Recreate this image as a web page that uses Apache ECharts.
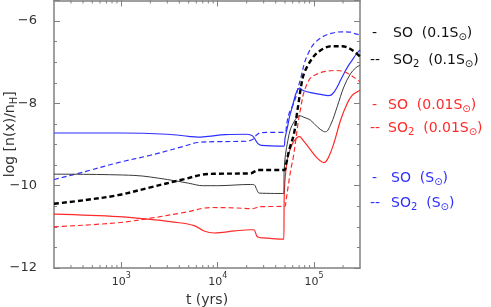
<!DOCTYPE html>
<html><head><meta charset="utf-8">
<script src="https://cdn.jsdelivr.net/npm/echarts@6/dist/echarts.min.js"></script>
<style>html,body{margin:0;padding:0;background:#fff}#c{width:491px;height:307px}</style>
</head><body><div id="c"></div>
<script>
// ---- data: [t (yrs), log n(x)/nH] ----
const soSun = [[200,-8.72],[1000,-8.72],[3000,-8.75],[5000,-8.80],[6200,-8.82],[8000,-8.80],[12000,-8.76],[20000,-8.75],[23000,-8.79],[26000,-8.97],[28500,-9.02],[48500,-9.04],[50000,-8.85],[53300,-8.55],[56000,-8.3],[60100,-8.05],[64000,-7.8],[67700,-7.67],[71000,-7.63],[76000,-7.68],[92000,-7.74],[117000,-7.78],[140000,-7.81],[150000,-7.80],[162000,-7.72],[174000,-7.6],[190000,-7.42],[204000,-7.28],[225000,-7.1],[249000,-6.95],[275000,-6.8],[300000,-6.7]];
const so2Sun = [[200,-9.85],[417,-9.66],[925,-9.44],[2000,-9.26],[4500,-9.04],[6200,-8.95],[10000,-8.93],[20000,-8.92],[23000,-8.88],[25500,-8.76],[28500,-8.71],[50000,-8.70],[52000,-8.5],[55000,-8.25],[60000,-8.05],[64600,-7.85],[68500,-7.6],[72600,-7.4],[80000,-7.0],[88500,-6.75],[100000,-6.55],[121000,-6.39],[150000,-6.30],[196000,-6.26],[240000,-6.27],[268000,-6.31],[300000,-6.33]];
const so01 = [[200,-9.72],[1350,-9.75],[3000,-9.85],[5000,-9.94],[7000,-10.0],[10000,-10.0],[22000,-9.97],[24000,-9.98],[25500,-10.1],[27000,-10.18],[48500,-10.19],[49000,-9.6],[50500,-9.25],[53500,-8.9],[57000,-8.62],[62000,-8.45],[66000,-8.35],[71000,-8.30],[77000,-8.33],[92000,-8.41],[108000,-8.57],[125000,-8.68],[132000,-8.69],[150000,-8.5],[174000,-8.08],[204000,-7.6],[239000,-7.28],[270000,-7.14],[300000,-7.07]];
const so2_01 = [[200,-10.44],[417,-10.35],[925,-10.23],[2000,-10.04],[4500,-9.84],[7000,-9.73],[10000,-9.71],[22000,-9.70],[24000,-9.66],[26000,-9.62],[49000,-9.62],[51000,-9.5],[55000,-9.15],[62000,-8.73],[66000,-8.3],[69800,-7.92],[72600,-7.65],[78000,-7.3],[88500,-7.03],[100000,-6.85],[112000,-6.74],[130000,-6.65],[150000,-6.61],[196000,-6.61],[230000,-6.66],[268000,-6.76],[300000,-6.86]];
const so001 = [[200,-10.69],[925,-10.75],[2000,-10.82],[4000,-10.9],[5700,-10.97],[7200,-11.1],[9200,-11.15],[15000,-11.1],[22000,-11.07],[23800,-11.07],[25800,-11.24],[30000,-11.27],[48500,-11.3],[49000,-10.3],[50000,-9.85],[53500,-9.3],[60000,-8.97],[66000,-8.84],[71000,-8.81],[76000,-8.88],[90000,-9.1],[108000,-9.33],[126500,-9.44],[140000,-9.33],[160700,-8.97],[188500,-8.41],[220800,-8.0],[250000,-7.8],[280500,-7.72],[300000,-7.68]];
const so2_001 = [[200,-11.0],[925,-10.9],[2000,-10.79],[4500,-10.65],[8500,-10.53],[15000,-10.54],[23000,-10.56],[25500,-10.53],[28000,-10.51],[50000,-10.5],[51000,-10.4],[54000,-10.0],[57500,-9.6],[61000,-9.3],[65000,-8.85],[69000,-8.4],[73500,-8.05],[78000,-7.75],[85000,-7.52],[92000,-7.38],[105000,-7.3],[121000,-7.24],[167000,-7.20],[200000,-7.22],[228000,-7.28],[265000,-7.38],[300000,-7.48]];

// ---- axes / ticks (time in years; plotted on log10 scale) ----
const X_MIN = 200, X_MAX = 300000, Y_MIN = -12, Y_MAX = -5.5;
const xMajorTicks = [1000, 10000, 100000];
const xMinorTicks = [300,400,500,600,700,800,900,2000,3000,4000,5000,6000,7000,8000,9000,20000,30000,40000,50000,60000,70000,80000,90000,200000];
const yLabels = [-12, -10, -8, -6];

const AX = '#808080';
const TXT = '#333333';
const FONT = 'DejaVu Sans';
const lg = function (t) { return Math.log10(t); };

const chart = echarts.init(document.getElementById('c'), null, {renderer: 'canvas'});

function lineSeries(data, color, width, dashed) {
  return {
    type: 'line', data: data.map(function (p) { return [lg(p[0]), p[1]]; }),
    xAxisIndex: 0, yAxisIndex: 0,
    showSymbol: false, symbol: 'none', smooth: 0.35,
    lineStyle: {color: color, width: width, type: dashed ? [5, 3] : 'solid'},
    silent: true, z: 3
  };
}

const xBase = {
  type: 'value', min: lg(X_MIN), max: lg(X_MAX),
  axisLine: {show: true, onZero: false, lineStyle: {color: AX, width: 1.5}},
  axisTick: {show: true, inside: true, length: 6, lineStyle: {color: AX, width: 1}, customValues: xMajorTicks.map(lg)},
  splitLine: {show: false}, minorTick: {show: false}
};
const yBase = {
  type: 'value', min: Y_MIN, max: Y_MAX,
  axisLine: {show: true, onZero: false, lineStyle: {color: AX, width: 1.5}},
  splitLine: {show: false}
};

const option = {
  animation: false,
  backgroundColor: '#ffffff',
  textStyle: {fontFamily: FONT},
  grid: {left: 54, right: 131, top: 0.5, bottom: 39, containLabel: false, outerBoundsMode: 'none'},
  xAxis: [
    Object.assign({}, xBase, {
      position: 'bottom',
      axisLabel: {
        margin: 4, color: TXT, fontFamily: FONT, fontSize: 11,
        customValues: xMajorTicks.map(lg),
        formatter: function (v) {
          return '{b|10}{sup|' + Math.round(v) + '}';
        },
        rich: {
          b: {fontSize: 11, color: TXT, fontFamily: FONT, lineHeight: 16, verticalAlign: 'bottom'},
          sup: {fontSize: 8, color: TXT, fontFamily: FONT, lineHeight: 9, verticalAlign: 'top'}
        }
      },
      name: 't (yrs)', nameLocation: 'middle', nameGap: 23,
      nameTextStyle: {color: TXT, fontFamily: FONT, fontSize: 14}
    }),
    Object.assign({}, xBase, {position: 'top', axisLabel: {show: false}})
  ],
  yAxis: [
    Object.assign({}, yBase, {
      position: 'left', interval: 2,
      axisTick: {show: true, inside: true, length: 6, lineStyle: {color: AX}},
      axisLabel: {
        margin: 17, color: TXT, fontFamily: FONT, fontSize: 13,
        customValues: yLabels,
        formatter: function (v) { return String(v).replace('-', '\u2212'); }
      }
    }),
    Object.assign({}, yBase, {
      position: 'left', interval: 0.5, axisLine: {show: false},
      axisTick: {show: true, inside: true, length: 3, lineStyle: {color: AX}},
      axisLabel: {show: false},
      name: 'log [n(x)/n{sub|H}]', nameLocation: 'middle', nameGap: 35, nameRotate: 90,
      nameMoveOverlap: false,
      nameTextStyle: {
        color: TXT, fontFamily: FONT, fontSize: 14, lineHeight: 18,
        rich: {sub: {fontSize: 10, color: TXT, fontFamily: FONT, lineHeight: 10, verticalAlign: 'bottom'}}
      }
    }),
    Object.assign({}, yBase, {
      position: 'right', interval: 2,
      axisTick: {show: true, inside: true, length: 6, lineStyle: {color: AX}},
      axisLabel: {show: false}
    }),
    Object.assign({}, yBase, {
      position: 'right', interval: 0.5, axisLine: {show: false},
      axisTick: {show: true, inside: true, length: 3, lineStyle: {color: AX}},
      axisLabel: {show: false}
    })
  ],
  series: [
    {
      type: 'custom', xAxisIndex: 0, yAxisIndex: 0, silent: true, clip: false, z: 2,
      data: xMinorTicks.map(function (v) { return [lg(v), Y_MIN]; }),
      encode: {x: 0, y: 1},
      renderItem: function (params, api) {
        const pb = api.coord([api.value(0), Y_MIN]);
        const pt = api.coord([api.value(0), Y_MAX]);
        return {type: 'group', children: [
          {type: 'line', shape: {x1: pb[0], y1: pb[1], x2: pb[0], y2: pb[1] - 3}, style: {stroke: AX, lineWidth: 1}},
          {type: 'line', shape: {x1: pt[0], y1: pt[1], x2: pt[0], y2: pt[1] + 3}, style: {stroke: AX, lineWidth: 1}}
        ]};
      }
    },
    lineSeries(soSun, '#2f2fff', 1.2, false),
    lineSeries(so2Sun, '#2f2fff', 1.2, true),
    lineSeries(so001, '#ff2a2a', 1.2, false),
    lineSeries(so2_001, '#ff2a2a', 1.2, true),
    lineSeries(so01, '#3a3a3a', 1.0, false),
    lineSeries(so2_01, '#000000', 2.4, true)
  ],
  graphic: []
};

const legendItems = [
  {dash: '-', label: 'SO  (0.1S{s|\u2299})', color: '#111111', y: 33, dx: 372, lx: 393},
  {dash: '--', label: 'SO{s|2}  (0.1S{s|\u2299})', color: '#111111', y: 60, dx: 370, lx: 393},
  {dash: '-', label: 'SO  (0.01S{s|\u2299})', color: '#ff2a2a', y: 105, dx: 372, lx: 388},
  {dash: '--', label: 'SO{s|2}  (0.01S{s|\u2299})', color: '#ff2a2a', y: 128, dx: 370, lx: 388},
  {dash: '-', label: 'SO  (S{s|\u2299})', color: '#2f2fff', y: 178, dx: 372, lx: 391},
  {dash: '--', label: 'SO{s|2}  (S{s|\u2299})', color: '#2f2fff', y: 203, dx: 370, lx: 391}
];
legendItems.forEach(function (it) {
  option.graphic.push({
    type: 'text', x: it.dx, y: it.y, silent: true,
    style: {text: it.dash, fill: it.color, font: '14px ' + FONT, verticalAlign: 'middle', textVerticalAlign: 'middle'}
  });
  option.graphic.push({
    type: 'text', x: it.lx, y: it.y, silent: true,
    style: {
      text: it.label, fill: it.color, fontSize: 14, fontFamily: FONT, lineHeight: 18,
      verticalAlign: 'middle', textVerticalAlign: 'middle',
      rich: {s: {fontSize: 10, fill: it.color, fontFamily: FONT, lineHeight: 10, verticalAlign: 'bottom'}}
    }
  });
});

chart.setOption(option);
</script>
</body></html>
